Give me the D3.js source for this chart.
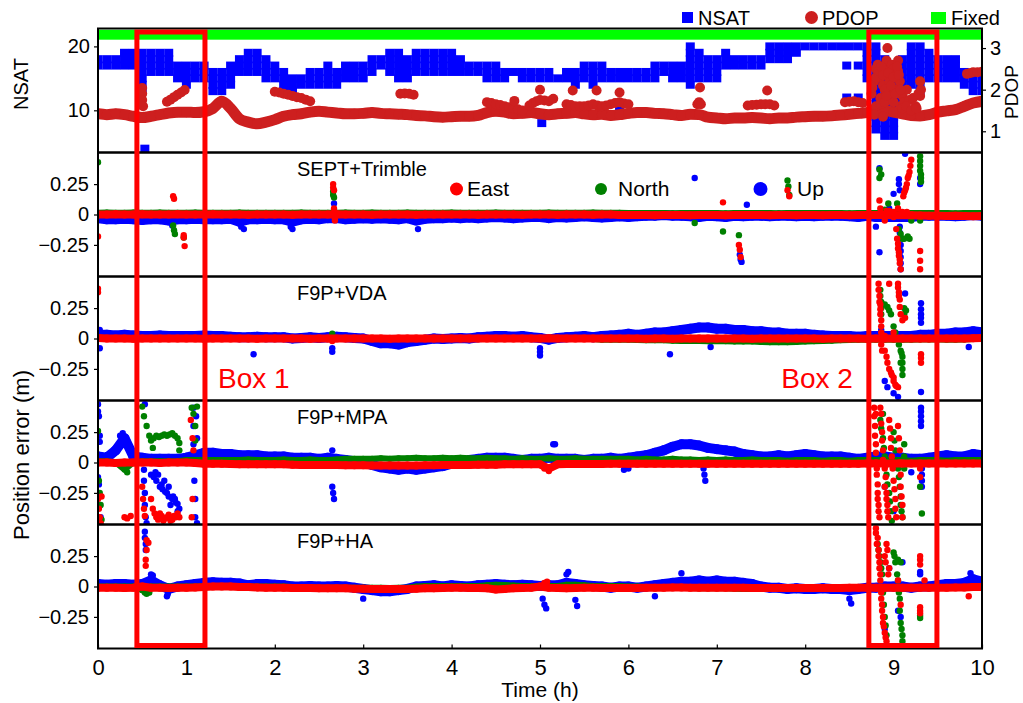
<!DOCTYPE html>
<html lang="en">
<head>
<meta charset="utf-8" />
<title>Position error</title>
<style>
  body { margin: 0; background: #fff; }
  svg text { font-family: "Liberation Sans", Arial, sans-serif; fill: #000; }
</style>
</head>
<body>
<svg id="chart" width="1023" height="703"></svg>
<script src="https://d3js.org/d3.v7.min.js"></script>
<script>
// ---- data ----
var hours = [0, 1, 2, 3, 4, 5, 6, 7, 8, 9, 10];
var step = 0.1; // hours between samples of the arrays below

// NSAT range (lowest / highest count seen) per sample
var nsatLow = [
  17,17,17,17,17,13,16,16,16,15,
  14,15,15,13,13,14,16,16,16,15,
  15,13,13,14,14,14,14,14,15,15,
  15,16,17,16,15,15,16,16,16,16,
  16,16,16,16,15,15,15,16,15,15,
  15,15,15,15,14,15,14,15,15,15,
  15,15,15,15,16,15,15,14,15,15,
  15,17,17,17,17,17,18,18,18,19,
  20,20,20,20,20,20,20,15,7,6,
  6,11,14,13,15,15,15,15,14,13,13];
var nsatHigh = [
  18,18,18,19,19,19,19,19,19,17,
  17,17,17,16,16,17,18,19,19,18,
  17,16,15,15,16,16,17,16,17,17,
  17,18,18,19,19,18,19,19,19,19,
  19,18,17,17,17,17,16,16,16,16,
  16,16,15,16,16,17,17,17,16,16,
  16,16,16,17,17,17,17,20,19,18,
  18,19,18,18,18,18,20,20,20,20,
  20,20,20,20,20,20,20,20,20,18,
  17,18,20,20,19,18,18,18,16,15,15];
var nsatOdd = [[0.53,4],[5.02,8],[5.9,10],[8.47,17],[8.6,17],[8.47,12],[8.6,12]];

var pdopMain = [
  1.42,1.40,1.42,1.40,1.36,1.33,1.36,1.40,1.44,1.46,
  1.46,1.45,1.47,1.55,1.72,1.55,1.30,1.22,1.18,1.22,
  1.28,1.36,1.40,1.42,1.46,1.48,1.46,1.44,1.42,1.42,
  1.43,1.45,1.43,1.42,1.41,1.40,1.38,1.37,1.35,1.34,
  1.35,1.36,1.36,1.38,1.45,1.48,1.46,1.42,1.43,1.45,
  1.42,1.40,1.42,1.43,1.45,1.42,1.40,1.41,1.38,1.40,
  1.43,1.45,1.45,1.43,1.42,1.40,1.38,1.41,1.40,1.34,
  1.32,1.30,1.32,1.32,1.33,1.32,1.30,1.32,1.32,1.34,
  1.35,1.36,1.36,1.37,1.39,1.41,1.43,1.45,1.50,1.50,
  1.46,1.42,1.38,1.37,1.40,1.46,1.49,1.52,1.60,1.68,1.72];
var pdopOdd = [
  [0.5,2.04],[0.5,1.9],[0.5,1.75],[0.51,1.6],
  [0.78,1.71],[0.82,1.76],[0.86,1.82],[0.9,1.88],[0.94,1.93],[0.98,1.99],
  [2.0,1.95],[2.05,1.93],[2.1,1.9],[2.15,1.88],[2.2,1.85],[2.25,1.82],[2.3,1.8],[2.35,1.76],[2.4,1.72],
  [3.42,1.9],[3.47,1.91],[3.52,1.9],[3.57,1.88],
  [4.4,1.7],[4.45,1.68],[4.5,1.65],[4.55,1.63],[4.6,1.6],[4.65,1.58],[4.7,1.55],[4.75,1.53],[4.8,1.5],
  [4.71,1.73],[4.88,1.62],[4.92,1.68],[4.96,1.72],[5.0,1.75],[5.05,1.74],[5.1,1.72],[5.15,1.78],[5.0,2.0],
  [5.3,1.65],[5.35,1.63],[5.4,1.6],[5.45,1.6],[5.5,1.6],[5.55,1.62],[5.6,1.65],[5.65,1.62],
  [5.7,1.6],[5.75,1.62],[5.8,1.65],[5.85,1.68],[5.9,1.7],[5.95,1.67],[6.0,1.65],
  [5.37,1.98],[5.64,1.98],[5.9,1.93],
  [6.78,1.65],[6.8,1.7],[6.82,1.65],[6.81,2.05],
  [7.35,1.62],[7.4,1.63],[7.45,1.64],[7.5,1.65],[7.55,1.65],[7.6,1.65],[7.65,1.62],[7.57,1.98],
  [8.45,1.7],[8.5,1.71],[8.55,1.72],[8.6,1.7],[8.65,1.68],
  [8.75,1.9],[8.78,2.2],[8.8,2.5],[8.82,2.6],[8.85,2.3],[8.85,1.8],[8.88,2.1],
  [8.9,2.5],[8.92,2.7],[8.93,3.0],[8.95,2.2],[8.95,1.9],[8.98,2.6],[9.0,2.5],
  [9.02,2.3],[9.03,2.0],[9.05,2.7],[9.05,2.45],[9.07,2.2],[9.08,1.6],[9.1,1.85],
  [9.12,1.7],[9.15,2.0],[9.18,1.75],[9.3,2.2],[9.3,1.85],[9.22,1.8],[9.25,1.6],
  [9.28,1.9],[8.8,1.6],[8.85,1.65],[8.9,1.7],[9.0,1.7],[8.78,1.4],[8.88,1.35],
  [8.76,2.05],[8.8,2.3],[8.83,2.45],[8.86,2.55],[8.88,2.35],[8.9,2.0],[8.92,1.85],
  [8.94,2.4],[8.97,2.1],[9.0,2.3],[9.02,1.9],[9.04,2.55],[9.06,2.35],[9.08,2.0],
  [9.1,1.55],[9.14,1.6],[9.2,1.5],[9.26,1.55],[9.31,2.0],
  [9.83,2.38],[9.87,2.4],[9.9,2.42],[9.95,2.42],[10,2.43]];
var fixedSpans = [[0, 10]];

var panelNames = ["SEPT+Trimble", "F9P+VDA", "F9P+MPA", "F9P+HA"];
var errorTicks = [0.25, 0, -0.25];

// SEPT+Trimble
var eastSept = [
  0,0,0.002,0,0,0.002,0,0,0,0.002,
  0,0,0,0.002,0,0,0,-0.002,0,0,
  0,0,-0.002,0,0,0,0,0.002,0,0,
  0,-0.002,0,0,0,0,-0.002,0,0,0,
  0,0,0,-0.002,0,0,0,0,-0.002,0,
  0,0,-0.002,0,0,0,-0.002,0,0,-0.004,
  -0.004,-0.005,-0.004,-0.006,-0.005,-0.004,-0.005,-0.006,-0.005,-0.005,
  -0.005,-0.006,-0.005,-0.005,-0.004,-0.005,-0.006,-0.005,-0.005,-0.006,
  -0.005,-0.005,-0.006,-0.005,-0.005,-0.006,-0.005,-0.005,-0.004,-0.005,
  -0.006,-0.005,-0.006,-0.008,-0.01,-0.01,-0.012,-0.01,-0.012,-0.015,-0.012];
var northSept = [
  0.015,0.016,0.015,0.014,0.016,0.015,0.015,0.016,0.015,0.014,
  0.015,0.016,0.015,0.015,0.014,0.015,0.016,0.015,0.015,0.014,
  0.015,0.014,0.015,0.016,0.015,0.015,0.014,0.015,0.016,0.015,
  0.015,0.016,0.015,0.014,0.015,0.016,0.015,0.015,0.014,0.015,
  0.016,0.015,0.015,0.014,0.015,0.016,0.015,0.015,0.014,0.015,
  0.015,0.016,0.015,0.015,0.014,0.015,0.016,0.015,0.015,0.014,
  0.012,0.012,0.013,0.012,0.012,0.011,0.012,0.012,0.013,0.012,
  0.012,0.011,0.012,0.012,0.013,0.012,0.012,0.011,0.012,0.012,
  0.012,0.012,0.013,0.012,0.012,0.011,0.012,0.012,0.012,0.012,
  0.011,0.012,0.012,0.012,0.013,0.012,0.012,0.011,0.012,0.012,0.012];
var upSept = [
  -0.03,-0.04,-0.04,-0.035,-0.04,-0.045,-0.04,-0.04,-0.05,-0.04,
  -0.04,-0.035,-0.04,-0.04,-0.04,-0.035,-0.06,-0.04,-0.04,-0.035,
  -0.04,-0.04,-0.06,-0.04,-0.035,-0.04,-0.03,-0.03,-0.04,-0.035,
  -0.03,-0.035,-0.03,-0.035,-0.04,-0.03,-0.05,-0.035,-0.03,-0.03,
  -0.025,-0.03,-0.025,-0.03,-0.025,-0.02,-0.025,-0.03,-0.025,-0.02,
  -0.02,-0.03,-0.02,-0.025,-0.02,-0.015,-0.02,-0.025,-0.02,-0.015,
  -0.02,-0.015,-0.01,-0.01,-0.005,-0.01,-0.01,-0.015,-0.02,-0.01,
  -0.015,-0.02,-0.01,-0.015,-0.01,-0.01,-0.015,-0.01,-0.01,-0.015,
  -0.01,-0.015,-0.01,-0.01,-0.01,-0.015,-0.02,-0.01,-0.02,-0.02,
  -0.02,-0.02,-0.02,-0.01,-0.01,-0.01,-0.01,-0.015,-0.01,-0.005,-0.01];
var eastSeptOdd = [[0,-0.18],[0.85,0.15],[0.86,0.13],[0.97,-0.17],[0.97,-0.19],[0.98,-0.26],
  [2.66,0.25],[2.66,0.22],[2.67,0.2],[2.67,0.05],[2.68,-0.03],[2.68,-0.05],
  [7.07,0.1],[7.25,-0.25],[7.26,-0.29],[7.27,-0.35],[7.8,0.2],[7.82,0.15],
  [8.84,0.115],[9.11,0.15],[9.13,0.2],[9.15,0.25],[9.16,0.3],[9.18,0.35],[9.19,0.4],[9.2,0.45],
  [9.03,-0.12],[9.04,-0.2],[9.05,-0.28],[9.06,-0.34],[9.07,-0.4],[9.08,-0.45],
  [9.3,-0.3],[9.3,-0.45],[8.95,0.03],[9.0,-0.02],[9.15,0.02],
  [8.85,0.05],[8.9,-0.05],[8.92,0.03],[9.0,0.02],[9.05,0.05],[9.1,0.02],[9.12,0.18],
  [9.14,0.22],[9.17,0.32],[9.05,-0.24],[9.06,-0.31],[9.07,-0.37],[9.3,-0.38]];
var northSeptOdd = [[0,0.43],[0.85,-0.09],[0.86,-0.13],[0.87,-0.16],[0.97,-0.19],
  [2.66,0.19],[2.66,0.16],[2.67,0.14],[6.75,-0.07],[7.07,-0.14],[7.25,-0.17],
  [7.8,0.28],[7.81,0.23],[7.82,0.16],
  [8.84,0.37],[8.84,0.3],[8.94,0.09],[9.04,0.09],[9.3,0.48],[9.3,0.4],[9.31,0.33],[9.31,0.27],
  [9.06,-0.12],[9.1,-0.2],[9.16,-0.18],[9.18,-0.2],[9.3,-0.05],
  [8.86,0.33],[9.3,0.44],[9.3,0.36],[9.31,0.3],[9.08,-0.16],[9.12,-0.2],[9.2,-0.05],[8.9,0.04]];
var upSeptOdd = [[0.84,-0.09],[1.62,-0.1],[1.65,-0.12],[2.18,-0.1],[2.2,-0.12],[3.62,-0.12],
  [2.67,0.09],[6.75,0.3],[7.34,0.08],[7.26,-0.33],[7.27,-0.37],[7.28,-0.39],
  [9.13,0.5],[9.06,0.29],[9.07,0.2],[9.0,0.17],[9.3,0.3],[8.84,-0.31],
  [9.07,-0.1],[9.07,-0.2],[9.08,-0.3],[9.08,-0.45],[8.8,-0.1],[8.84,0.38],
  [9.07,-0.15],[9.08,-0.25],[9.08,-0.35],[9.08,-0.4],[8.95,0.05],[9.3,0.25],[9.06,0.25]];

// F9P+VDA
var eastVda = [
  0.005,0,0,0,-0.003,0,0,0,0,0,
  0,0,-0.003,0,0,0,0,0,-0.003,0,
  0,0,0,0,-0.003,0,0,0,0,0,
  0,0,0,-0.003,0,0,0,0,0,0,
  0,0,0,0,0,0,0,0,0,0,
  0,0.003,0,0,0,0,0,0,0,0,
  0,0,-0.003,0,0,-0.003,0,0,0,0,
  0,0,0,0,-0.003,0,0,0,0,0,
  0,0,-0.003,0,0,0,0,-0.003,0,0,
  0,0,0,0,0,0,0,0,0,0.003,0.005];
var northVda = [
  0,0,0.002,0,0,0.002,0,0,0,0,
  0,0.002,0,0,0,0,0.002,0,0,0,
  0,0,0,0.002,0,0,0,0,0.002,0,
  0,0,0,0,0.002,0,0,0,0,0,
  0.002,0,0,0,0,0,0,0,0,0,
  0,0,0,0,0,-0.005,-0.005,-0.01,-0.01,-0.01,
  -0.01,-0.012,-0.015,-0.015,-0.015,-0.018,-0.02,-0.02,-0.02,-0.022,
  -0.02,-0.022,-0.025,-0.025,-0.025,-0.028,-0.03,-0.03,-0.03,-0.028,
  -0.025,-0.022,-0.02,-0.018,-0.015,-0.012,-0.01,-0.01,-0.01,-0.01,
  -0.01,-0.01,-0.01,-0.008,-0.008,-0.008,-0.01,-0.01,-0.008,-0.005,-0.005];
var upVda = [
  0.03,0.03,0.025,0.03,0.025,0.02,0.02,0.025,0.02,0.02,
  0.02,0.02,0.025,0.02,0.02,0.015,0.01,0.01,0.015,0.01,
  0.01,0.01,0,0.005,0.01,0.005,0.01,0.015,0.01,0.005,
  0,-0.02,-0.04,-0.04,-0.05,-0.03,-0.02,-0.01,0,-0.005,
  0,0.005,0,0.01,0.015,0.02,0.02,0.015,0.02,0.01,
  0.005,-0.01,0.005,0.01,0.015,0.02,0.01,0.02,0.025,0.03,
  0.04,0.03,0.04,0.05,0.05,0.06,0.07,0.08,0.09,0.09,
  0.08,0.08,0.07,0.07,0.06,0.06,0.05,0.05,0.04,0.04,
  0.04,0.03,0.025,0.02,0.02,0.02,0.015,0.02,0.02,0.02,
  0.02,0.02,0.02,0.03,0.03,0.04,0.04,0.05,0.05,0.06,0.05];
var eastVdaOdd = [[0,0.38],[0,0.41],[2.65,-0.02],
  [8.83,0.45],[8.84,0.35],[8.85,0.28],[8.85,0.2],[8.86,0.1],[8.86,-0.05],[8.87,-0.1],
  [8.95,0.45],[9.05,0.45],[9.06,0.38],[9.07,0.32],[9.08,0.2],[9.1,0.15],[9.13,0.17],
  [8.92,-0.15],[8.95,-0.25],[8.98,-0.3],[9.0,-0.35],[9.02,-0.38],[9.05,-0.4],
  [9.31,-0.13],[9.31,-0.2],[8.9,0.02],[9.0,0.05],
  [8.83,0.4],[8.84,0.3],[8.85,0.24],[8.86,0.15],[8.86,0.05],[9.05,0.42],[9.06,0.35],
  [9.07,0.26],[8.93,-0.2],[8.97,-0.28],[9.0,-0.32],[9.03,-0.39],[8.9,-0.1],[9.31,-0.16]];
var northVdaOdd = [[2.65,0.04],
  [8.85,0.4],[8.86,0.3],[8.86,0.2],[8.93,0.26],[8.97,0.2],[9.0,0.1],[9.05,0.0],
  [9.08,-0.1],[9.1,-0.15],[9.1,-0.25],[9.08,-0.2],[9.12,0.25],[9.14,0.23],
  [8.85,0.35],[8.86,0.25],[8.9,0.28],[8.95,0.23],[9.02,0.05],[9.06,-0.05],[9.09,-0.12],
  [9.1,-0.2],[9.1,-0.3],[9.12,0.2]];
var upVdaOdd = [[0.02,-0.08],[0.02,0.07],[1.76,-0.13],[2.65,-0.11],[2.65,-0.08],
  [5.0,-0.08],[5.0,-0.11],[5.0,-0.14],[6.47,-0.13],[6.93,-0.07],[9.85,-0.07],
  [9.13,0.37],[9.31,0.29],[9.31,0.2],[9.31,0.13],[9.31,-0.44],[8.93,-0.4],
  [9.05,-0.48],[8.86,0.07],[9.31,0.24],[9.31,0.17],[8.9,-0.35],[9.0,-0.45]];

// F9P+MPA
var eastMpa = [
  0,0,-0.005,0,0,0,0,-0.005,0,0,
  0,-0.005,-0.01,-0.01,-0.01,-0.012,-0.015,-0.015,-0.015,-0.015,
  -0.015,-0.015,-0.018,-0.02,-0.02,-0.02,-0.02,-0.02,-0.022,-0.022,
  -0.022,-0.025,-0.025,-0.025,-0.025,-0.025,-0.025,-0.022,-0.022,-0.02,
  -0.02,-0.02,-0.02,-0.018,-0.018,-0.018,-0.015,-0.015,-0.015,-0.015,
  -0.015,-0.05,-0.015,-0.012,-0.012,-0.012,-0.012,-0.012,-0.01,-0.01,
  -0.01,-0.01,-0.01,-0.01,-0.01,-0.01,-0.01,-0.01,-0.01,-0.01,
  -0.01,-0.01,-0.01,-0.01,-0.01,-0.01,-0.01,-0.01,-0.01,-0.01,
  -0.01,-0.01,-0.01,-0.01,-0.01,-0.01,-0.01,-0.008,-0.008,-0.008,
  -0.008,-0.008,-0.008,-0.008,-0.008,-0.008,-0.008,-0.008,-0.008,-0.008,-0.008];
var northMpa = [
  0.01,0.01,0,-0.06,0,0.01,0.01,0.01,0.01,0.01,
  0.02,0.02,0.02,0.02,0.02,0.02,0.02,0.025,0.02,0.02,
  0.02,0.025,0.02,0.02,0.025,0.02,0.02,0.025,0.03,0.03,
  0.03,0.03,0.035,0.03,0.035,0.035,0.04,0.035,0.035,0.04,
  0.035,0.04,0.035,0.035,0.04,0.035,0.035,0.03,0.035,0.03,
  0.03,0.035,0.03,0.03,0.035,0.03,0.03,0.03,0.03,0.03,
  0.03,0.025,0.03,0.025,0.025,0.03,0.025,0.025,0.02,0.025,
  0.02,0.025,0.02,0.02,0.025,0.02,0.02,0.02,0.015,0.02,
  0.02,0.02,0.015,0.02,0.02,0.015,0.02,0.02,0.02,0.02,
  0.02,0.02,0.015,0.02,0.02,0.02,0.015,0.02,0.02,0.02,0.02];
var upMpa = [
  0.05,0.04,0.1,0.2,0.05,0.04,0.03,0.03,0.03,0.03,
  0.04,0.06,0.08,0.08,0.07,0.07,0.06,0.06,0.06,0.05,
  0.05,0.05,0.04,0.04,0.04,0.03,0.04,0.03,0.02,0.01,
  0,-0.02,-0.04,-0.05,-0.06,-0.05,-0.06,-0.05,-0.04,-0.03,
  -0.01,0,0.02,0.03,0.04,0.04,0.04,0.03,0.02,0.03,
  0.03,0.04,0.03,0.03,0.03,0.02,0.03,0.03,0.04,0.03,
  0.04,0.05,0.06,0.08,0.1,0.13,0.15,0.15,0.14,0.12,
  0.11,0.1,0.09,0.07,0.06,0.05,0.05,0.06,0.05,0.06,
  0.07,0.06,0.05,0.05,0.05,0.04,0.03,0.04,0.05,0.05,
  0.04,0.04,0.03,0.03,0.04,0.05,0.06,0.05,0.05,0.07,0.06];
var eastMpaOdd = [[0,-0.3],[0.01,-0.38],[0.02,-0.45],[0.03,-0.5],[0.04,-0.28],
  [0.3,-0.45],[0.33,-0.46],[0.37,-0.44],[0.5,-0.2],[0.51,-0.3],[0.52,-0.38],[0.53,-0.44],
  [0.6,-0.3],[0.62,-0.38],[0.66,-0.45],[0.7,-0.42],[0.74,-0.48],[0.78,-0.45],[0.82,-0.48],
  [0.86,-0.44],[0.9,-0.42],[0.92,-0.45],[1.05,0.35],[1.07,0.2],[1.08,0.1],[1.07,-0.3],[1.06,-0.45],
  [0.64,-0.42],[0.68,-0.47],[0.72,-0.44],[0.76,-0.46],[0.8,-0.43],[0.84,-0.47],[0.88,-0.45],
  [5.05,-0.05],[5.1,-0.07],[5.12,-0.04],
  [8.78,0.45],[8.79,0.3],[8.8,0.15],[8.8,0],[8.81,-0.1],[8.82,-0.25],[8.83,-0.35],[8.84,-0.45],
  [8.86,0.4],[8.87,0.25],[8.88,0.1],[8.9,-0.05],[8.9,-0.2],[8.92,-0.3],[8.93,-0.4],
  [8.95,0.35],[8.97,0.2],[8.98,0.05],[9.0,-0.15],[9.02,-0.3],[9.03,-0.45],
  [9.05,0.3],[9.07,0.1],[9.08,-0.2],[9.1,-0.35],[9.3,-0.05],[9.3,-0.12],
  [8.78,0.38],[8.79,0.22],[8.8,0.08],[8.81,-0.05],[8.82,-0.18],[8.82,-0.3],[8.83,-0.4],
  [8.86,0.32],[8.87,0.18],[8.88,0.02],[8.91,-0.12],[8.92,-0.25],[8.93,-0.35],[8.94,-0.45],
  [8.96,0.28],[8.97,0.12],[8.99,-0.05],[9.01,-0.22],[9.02,-0.38],[9.06,0.2],[9.07,0.0],
  [9.08,-0.1],[9.09,-0.28],[9.1,-0.45],[8.8,0.4],[8.85,0.45]];
var northMpaOdd = [[0,0.26],[0.01,-0.15],[0.02,-0.25],[0.03,-0.35],[0.04,-0.47],
  [0.33,-0.08],[0.5,0.46],[0.52,0.38],[0.55,0.3],[0.58,0.22],[0.62,0.12],
  [0.6,0.18],[0.63,0.2],[0.66,0.22],[0.69,0.21],[0.72,0.22],[0.75,0.23],[0.78,0.22],
  [0.81,0.23],[0.84,0.24],[0.87,0.22],[0.9,0.2],
  [0.92,0.16],[0.92,0.1],[1.06,0.45],[1.08,0.4],[1.1,0.3],[1.1,0.18],[1.12,0.46],
  [8.85,0.35],[8.88,0.2],[8.9,0.05],[8.92,-0.1],[8.95,-0.25],[8.97,-0.4],[8.98,-0.48],
  [9.0,0.25],[9.02,0.1],[9.05,-0.05],[9.07,-0.2],[9.08,-0.35],[9.1,-0.45],[9.12,0.15],
  [9.3,-0.2],[9.32,-0.42],
  [8.86,0.28],[8.89,0.12],[8.91,-0.02],[8.93,-0.18],[8.96,-0.32],[9.01,0.18],[9.03,0.02],
  [9.06,-0.12],[9.08,-0.28],[9.09,-0.4],[9.12,0.05],[9.12,-0.05],[8.88,0.4]];
var upMpaOdd = [[0,0.48],[0,0.42],[0.01,0.38],[0.02,0.22],[0.02,0.17],[0,-0.12],[0.01,-0.18],
  [0.02,-0.35],[0.03,-0.45],[0.02,-0.5],[0.25,0.22],[0.28,0.24],[0.33,0.18],[0.35,0.12],
  [0.52,-0.06],[0.52,-0.15],[0.53,-0.25],[0.53,-0.35],[0.54,-0.45],[0.55,-0.5],[0.53,0.48],
  [0.6,-0.1],[0.63,-0.12],[0.66,-0.15],[0.7,-0.2],[0.73,-0.22],[0.76,-0.24],[0.8,-0.28],
  [0.84,-0.3],[0.87,-0.3],[0.9,-0.34],[0.65,-0.08],[0.68,-0.1],[0.75,-0.15],[0.8,-0.2],
  [0.72,-0.18],[0.78,-0.25],[0.82,-0.35],[0.85,-0.28],[0.88,-0.33],[0.9,-0.4],[0.92,-0.38],
  [1.08,0.45],[1.08,0.3],[1.08,0.15],[1.09,0],[1.09,-0.15],[1.1,-0.3],[1.1,-0.45],[1.12,-0.5],
  [1.11,0.38],[1.12,0.2],
  [2.65,0.1],[2.65,-0.2],[2.66,-0.25],[2.67,-0.3],[5.15,0.15],[5.17,0.15],
  [5.95,-0.06],[6.0,-0.05],[6.85,-0.05],[6.86,-0.1],[6.87,-0.15],
  [8.8,0.03],[8.82,0.05],[9.31,0.45],[9.31,0.38],[9.31,0.3],[9.32,-0.05],[9.32,-0.15],
  [9.2,-0.08],[8.9,-0.2],[9.0,-0.4],[9.31,0.42],[9.31,0.34],[9.32,-0.1],[9.32,-0.2]];

// F9P+HA
var eastHa = [
  -0.01,-0.01,-0.01,-0.012,-0.01,0,-0.01,-0.01,-0.012,-0.01,
  -0.01,-0.008,-0.005,0,0,0,-0.005,-0.005,-0.008,-0.01,
  -0.01,-0.01,-0.012,-0.012,-0.012,-0.015,-0.015,-0.015,-0.015,-0.018,
  -0.018,-0.02,-0.02,-0.02,-0.02,-0.02,-0.018,-0.015,-0.015,-0.012,
  -0.01,-0.01,-0.012,-0.012,-0.015,-0.025,-0.02,-0.015,-0.012,-0.01,
  0,-0.01,-0.012,-0.015,-0.012,-0.01,-0.01,-0.012,-0.012,-0.012,
  -0.012,-0.012,-0.01,-0.01,-0.01,-0.008,-0.008,-0.01,-0.01,-0.01,
  -0.01,-0.01,-0.01,-0.01,-0.012,-0.012,-0.012,-0.012,-0.012,-0.012,
  -0.012,-0.012,-0.012,-0.012,-0.012,-0.01,-0.01,-0.01,-0.01,-0.01,
  -0.01,-0.01,-0.01,-0.01,-0.01,-0.01,-0.01,-0.008,-0.008,-0.005,-0.005];
var northHa = [
  0,0,0,0,0,-0.03,0,0,0,0,
  0,0,0.005,0.005,0.005,0,0,0,0,0,
  0,0,-0.005,-0.005,-0.005,-0.01,-0.01,-0.01,-0.01,-0.01,
  -0.01,-0.01,-0.01,-0.012,-0.01,-0.01,0,0.005,0.005,0.005,
  0.005,0.005,0.005,0.005,0.01,0.015,0.012,0.008,0.005,0.005,
  0.005,0.005,0.005,0.015,0.015,0.01,0.005,0.005,0.005,0.005,
  0,0,-0.005,-0.005,-0.01,-0.01,-0.01,-0.012,-0.015,-0.015,
  -0.015,-0.015,-0.018,-0.02,-0.02,-0.02,-0.02,-0.02,-0.018,-0.018,
  -0.015,-0.015,-0.012,-0.012,-0.01,-0.01,-0.01,-0.01,-0.01,-0.01,
  -0.01,-0.01,-0.01,-0.01,-0.01,-0.01,-0.01,-0.01,-0.01,-0.01,-0.01];
var upHa = [
  0.02,0.015,0.02,0.02,0.015,0.02,0.05,0.01,-0.02,0,
  0.01,0.02,0.03,0.035,0.03,0.03,0.025,0.01,0.02,0.02,
  0.015,0.01,0,0,0.005,0,0,0.005,0,-0.01,
  -0.02,-0.03,-0.04,-0.04,-0.03,-0.02,0,0.005,0.01,0,
  0.01,0.005,0,0.01,0.015,0.02,0.015,0.01,0.015,0.01,
  0.005,0.01,0.01,0.03,0.02,0.01,0.005,0,-0.01,0,
  0,-0.01,0,0.01,0.02,0.03,0.04,0.04,0.05,0.04,
  0.05,0.04,0.04,0.03,0.02,0,-0.01,-0.01,-0.02,-0.015,
  -0.02,-0.02,-0.015,-0.02,-0.02,-0.03,-0.02,-0.01,-0.01,0,
  0,0,-0.01,0,0,0.01,0.02,0.02,0.03,0.06,0.04];
var eastHaOdd = [[0.55,0.38],[0.55,0.3],[0.54,0.22],[0.54,0.17],[0.57,0.36],
  [5.05,0.03],[5.08,0.04],[9.85,-0.08],
  [8.8,0.48],[8.82,0.4],[8.83,0.3],[8.84,0.2],[8.85,0.1],[8.86,-0.1],[8.87,-0.2],
  [8.88,-0.3],[8.9,-0.38],[8.92,-0.45],[8.9,0.25],[8.93,0.3],[8.95,0.15],[9.05,0.05],
  [9.08,-0.15],[9.3,0.25],[9.3,0.18],[9.3,-0.17],[9.3,-0.2],[9.35,0.05],
  [8.8,0.44],[8.81,0.35],[8.83,0.25],[8.84,0.15],[8.85,0.05],[8.86,-0.05],[8.87,-0.15],
  [8.88,-0.25],[8.89,-0.33],[8.91,-0.42],[8.92,-0.48],[8.91,0.2],[8.92,0.35],[8.94,0.1],
  [9.3,0.22],[9.3,-0.22]];
var northHaOdd = [[0.53,-0.05],[0.55,-0.06],[0.58,-0.05],
  [8.82,0.35],[8.84,0.25],[8.86,0.15],[8.88,-0.05],[8.9,-0.25],[8.92,-0.4],
  [9.0,0.28],[9.02,0.2],[9.05,0.05],[9.07,-0.1],[9.08,-0.3],[9.1,-0.4],[9.1,-0.48],
  [9.3,-0.24],[9.3,-0.26],
  [8.83,0.3],[8.85,0.2],[8.87,0.1],[8.89,-0.15],[8.91,-0.32],[9.01,0.25],[9.04,0.1],
  [9.06,-0.05],[9.07,-0.2],[9.09,-0.35],[9.1,-0.45],[9.05,0.22],[9.08,0.2]];
var upHaOdd = [[0.53,0.45],[0.53,0.4],[0.54,0.35],[0.54,0.3],[0.6,0.1],[0.62,0.09],
  [0.78,-0.08],[0.79,-0.06],[5.03,-0.1],[5.05,-0.15],[5.07,-0.18],[5.4,-0.11],[5.42,-0.16],
  [5.3,0.1],[5.32,0.12],[6.6,0.11],[9.87,0.11],[8.5,-0.1],[8.52,-0.14],[3.0,-0.1],[6.3,-0.08],
  [8.95,0.15],[9.05,-0.2],[9.08,-0.25],[9.3,0.12],[9.3,0.1],[8.9,-0.35],[9.1,0.2]];

var panels = [
  { east: eastSept, north: northSept, up: upSept, eastOdd: eastSeptOdd, northOdd: northSeptOdd, upOdd: upSeptOdd },
  { east: eastVda, north: northVda, up: upVda, eastOdd: eastVdaOdd, northOdd: northVdaOdd, upOdd: upVdaOdd },
  { east: eastMpa, north: northMpa, up: upMpa, eastOdd: eastMpaOdd, northOdd: northMpaOdd, upOdd: upMpaOdd },
  { east: eastHa, north: northHa, up: upHa, eastOdd: eastHaOdd, northOdd: northHaOdd, upOdd: upHaOdd }
];

var boxes = [
  { label: "Box 1", from: 0.44, to: 1.21 },
  { label: "Box 2", from: 8.72, to: 9.49 }
];

// ---- layout ----
var svg = d3.select("#chart");
var left = 98, right = 982, top0 = 28.5, panelH = 124;
var bottom = top0 + panelH * 5;
var colors = { nsat: "#0000ff", pdop: "#cd1f1f", fixed: "#00ff00", east: "#ff0000", north: "#008000", up: "#0000ff" };

var x = d3.scaleLinear().domain([0, 10]).range([left, right]);

function series(values) {
  return values.map(function (v, i) { return [i * step, v]; });
}

// ---- top panel: NSAT / PDOP / Fixed ----
var nsatY = d3.scaleLinear().domain([3.4, 22.8]).range([top0 + panelH, top0]);
var pdopY = d3.scaleLinear().domain([0.49, 3.47]).range([top0 + panelH, top0]);

svg.append("clipPath").attr("id", "clip0")
  .append("rect").attr("x", left).attr("y", top0).attr("width", right - left).attr("height", panelH);
var topG = svg.append("g").attr("clip-path", "url(#clip0)");

// NSAT squares for every count in the low..high range of each sample
var nsatCells = [];
nsatLow.forEach(function (lo, i) {
  for (var n = lo; n <= nsatHigh[i]; n++) nsatCells.push([i * step, n]);
});
nsatOdd.forEach(function (d) { nsatCells.push(d); });
topG.selectAll("rect.nsat").data(nsatCells).join("rect")
  .attr("class", "nsat")
  .attr("x", function (d) { return x(d[0]) - 4.5; })
  .attr("y", function (d) { return nsatY(d[1]) - 4; })
  .attr("width", 9).attr("height", 8)
  .attr("fill", colors.nsat);

// PDOP
var pdopLine = d3.line().curve(d3.curveMonotoneX)
  .x(function (d) { return x(d[0]); }).y(function (d) { return pdopY(d[1]); });
topG.append("path").datum(series(pdopMain))
  .attr("d", pdopLine).attr("fill", "none")
  .attr("stroke", colors.pdop).attr("stroke-width", 11)
  .attr("stroke-linejoin", "round").attr("stroke-linecap", "round");
topG.selectAll("circle.pdop").data(series(pdopMain).concat(pdopOdd)).join("circle")
  .attr("class", "pdop")
  .attr("cx", function (d) { return x(d[0]); })
  .attr("cy", function (d) { return pdopY(d[1]); })
  .attr("r", 5).attr("fill", colors.pdop);

// Fixed status band
topG.selectAll("rect.fixed").data(fixedSpans).join("rect")
  .attr("class", "fixed")
  .attr("x", function (d) { return x(d[0]); })
  .attr("width", function (d) { return x(d[1]) - x(d[0]); })
  .attr("y", nsatY(22.6)).attr("height", nsatY(21.05) - nsatY(22.6))
  .attr("fill", colors.fixed);

svg.append("rect").attr("x", left).attr("y", top0).attr("width", right - left).attr("height", panelH)
  .attr("fill", "none").attr("stroke", "#000").attr("stroke-width", 2);

var nsatAxis = svg.append("g").attr("transform", "translate(" + left + ",0)")
  .call(d3.axisLeft(nsatY).tickValues([10, 20]).tickSize(4).tickPadding(4));
var pdopAxis = svg.append("g").attr("transform", "translate(" + right + ",0)")
  .call(d3.axisRight(pdopY).tickValues([1, 2, 3]).tickSize(4).tickPadding(4).tickFormat(d3.format("d")));
[nsatAxis, pdopAxis].forEach(function (a) {
  a.select(".domain").remove();
  a.selectAll("text").style("font-size", "20px");
  a.selectAll("line").attr("stroke-width", 1.2);
});

svg.append("text").attr("transform", "translate(21,84) rotate(-90)")
  .attr("text-anchor", "middle").attr("dy", "0.35em").style("font-size", "20px").text("NSAT");
svg.append("text").attr("transform", "translate(1011,92) rotate(-90)")
  .attr("text-anchor", "middle").attr("dy", "0.35em").style("font-size", "19px").text("PDOP");

// top legend
var legTop = svg.append("g");
legTop.append("rect").attr("x", 682).attr("y", 12).attr("width", 11).attr("height", 11).attr("fill", colors.nsat);
legTop.append("text").attr("x", 698).attr("y", 25).style("font-size", "20px").text("NSAT");
legTop.append("circle").attr("cx", 811.5).attr("cy", 17.5).attr("r", 6.5).attr("fill", colors.pdop);
legTop.append("text").attr("x", 822).attr("y", 25).style("font-size", "20px").text("PDOP");
legTop.append("rect").attr("x", 931).attr("y", 12).attr("width", 15).attr("height", 12).attr("fill", colors.fixed);
legTop.append("text").attr("x", 951).attr("y", 25).style("font-size", "20px").text("Fixed");

// ---- position error panels ----
var line = d3.line();
panels.forEach(function (p, k) {
  var y0 = top0 + panelH * (k + 1);
  var y = d3.scaleLinear().domain([-0.51, 0.51]).range([y0 + panelH, y0]);
  line.x(function (d) { return x(d[0]); }).y(function (d) { return y(d[1]); });

  svg.append("clipPath").attr("id", "clip" + (k + 1))
    .append("rect").attr("x", left).attr("y", y0).attr("width", right - left).attr("height", panelH);
  var g = svg.append("g").attr("clip-path", "url(#clip" + (k + 1) + ")");

  [["up", 10, 5, 3.2], ["north", 6, 3, 3.2], ["east", 8, 4, 3.2]].forEach(function (s) {
    var key = s[0];
    g.append("path").datum(series(p[key]))
      .attr("d", line).attr("fill", "none")
      .attr("stroke", colors[key]).attr("stroke-width", s[1])
      .attr("stroke-linejoin", "round").attr("stroke-linecap", "round");
    g.selectAll("circle.b" + key).data(series(p[key])).join("circle")
      .attr("class", "b" + key)
      .attr("cx", function (d) { return x(d[0]); })
      .attr("cy", function (d) { return y(d[1]); })
      .attr("r", s[2]).attr("fill", colors[key]);
    g.selectAll("circle.o" + key).data(p[key + "Odd"]).join("circle")
      .attr("class", "o" + key)
      .attr("cx", function (d) { return x(d[0]); })
      .attr("cy", function (d) { return y(d[1]); })
      .attr("r", s[3]).attr("fill", colors[key]);
  });

  svg.append("rect").attr("x", left).attr("y", y0).attr("width", right - left).attr("height", panelH)
    .attr("fill", "none").attr("stroke", "#000").attr("stroke-width", 2);

  var ax = svg.append("g").attr("transform", "translate(" + left + ",0)")
    .call(d3.axisLeft(y).tickValues(errorTicks).tickSize(4).tickPadding(5)
      .tickFormat(function (v) { return v === 0 ? "0" : (v < 0 ? "\u2212" : "") + Math.abs(v); }));
  ax.select(".domain").remove();
  ax.selectAll("text").style("font-size", "20px");
  ax.selectAll("line").attr("stroke-width", 1.2);

  svg.append("text").attr("x", 297).attr("y", y0 + 23).style("font-size", "20px").text(panelNames[k]);
});

// legend inside first error panel
var leg = svg.append("g");
[["East", colors.east, 456.5, 467, 6.5], ["North", colors.north, 601, 618, 6], ["Up", colors.up, 760.5, 797, 7]].forEach(function (d) {
  leg.append("circle").attr("cx", d[2]).attr("cy", 189).attr("r", d[4]).attr("fill", d[1]);
  leg.append("text").attr("x", d[3]).attr("y", 196).style("font-size", "21px").text(d[0]);
});

// x axis
var xAxis = svg.append("g").attr("transform", "translate(0," + bottom + ")")
  .call(d3.axisBottom(x).tickValues(hours).tickSize(-4).tickPadding(11).tickFormat(d3.format("d")));
xAxis.select(".domain").remove();
xAxis.selectAll("text").style("font-size", "22px");
xAxis.selectAll("line").attr("stroke-width", 1.2);

svg.append("text").attr("x", (left + right) / 2).attr("y", 697).attr("text-anchor", "middle")
  .style("font-size", "21px").text("Time (h)");
svg.append("text").attr("transform", "translate(21,455) rotate(-90)")
  .attr("text-anchor", "middle").attr("dy", "0.35em").style("font-size", "22px").text("Position error (m)");

// red boxes
boxes.forEach(function (b, i) {
  svg.append("rect").attr("x", x(b.from)).attr("y", 32)
    .attr("width", x(b.to) - x(b.from)).attr("height", bottom - 3 - 32)
    .attr("fill", "none").attr("stroke", "#ff0000").attr("stroke-width", 5);
  svg.append("text")
    .attr("x", i === 0 ? x(b.to) + 13 : x(b.from) - 16)
    .attr("y", 388)
    .attr("text-anchor", i === 0 ? "start" : "end")
    .style("font-size", "28px").style("fill", "#ff0000").text(b.label);
});
</script>
</body>
</html>
